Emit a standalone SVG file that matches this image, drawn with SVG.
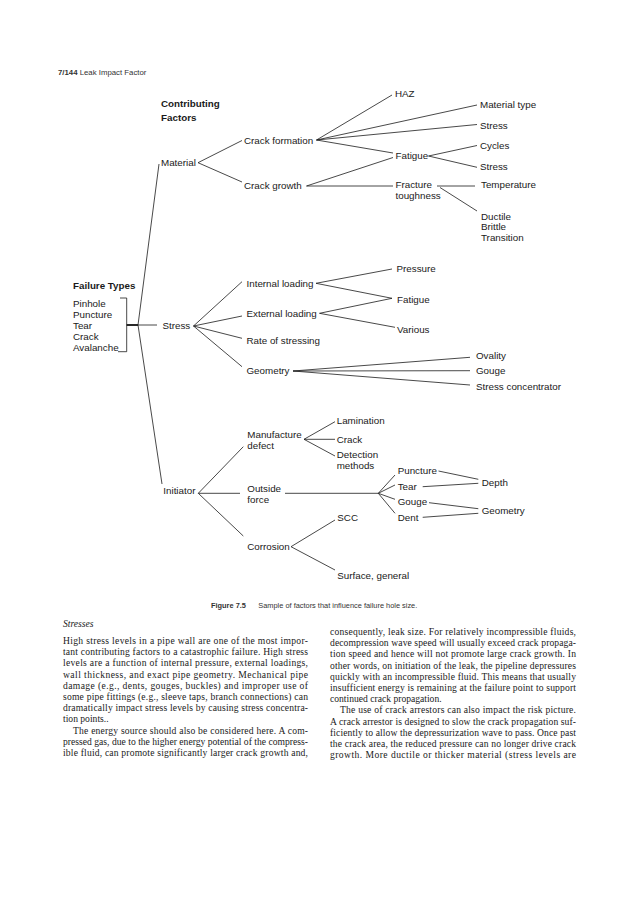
<svg xmlns="http://www.w3.org/2000/svg" width="638" height="900" viewBox="0 0 638 900">
<style>
.t{font-family:"Liberation Sans",Arial,sans-serif;font-size:9.8px;fill:#1a1a1a}
.b{font-family:"Liberation Sans",Arial,sans-serif;font-size:9.8px;font-weight:bold;fill:#1a1a1a}
.hd{font-family:"Liberation Sans",Arial,sans-serif;font-size:7.8px;fill:#333}
.cap{font-family:"Liberation Sans",Arial,sans-serif;font-size:7.4px;fill:#333}
.body{font-family:"Liberation Serif","Times New Roman",serif;font-size:9.6px;fill:#1a1a1a}
.c line,.c polyline{stroke:#1a1a1a;stroke-width:0.8;fill:none}
</style>
<rect width="638" height="900" fill="#fff"/>
<text class="hd" x="58" y="75"><tspan font-weight="bold">7/144</tspan> Leak Impact Factor</text>

<g id="connectors" class="c">
<polyline points="159,164 138,325 162,484"/>
<polyline points="120,298 126.7,298 126.7,351.7 118,351.7"/>
<line x1="126.7" y1="325" x2="157" y2="325"/>
<line x1="126.7" y1="325" x2="138" y2="325" style="stroke-width:1.8"/>
<line x1="198" y1="162.7" x2="242" y2="140.5"/>
<line x1="198" y1="162.7" x2="242" y2="182"/>
<line x1="316.5" y1="140" x2="392" y2="95"/>
<line x1="316.5" y1="140" x2="477" y2="105"/>
<line x1="316.5" y1="140" x2="477" y2="124.5"/>
<line x1="316.5" y1="140" x2="393" y2="153"/>
<line x1="306.5" y1="186" x2="393" y2="157.5"/>
<line x1="306.5" y1="186" x2="393" y2="186"/>
<line x1="428.5" y1="156" x2="477" y2="145.5"/>
<line x1="428.5" y1="156" x2="477" y2="167.3"/>
<line x1="437" y1="186" x2="475" y2="186"/>
<line x1="440" y1="187.5" x2="477" y2="211"/>
<line x1="193.5" y1="326" x2="242" y2="281.7"/>
<line x1="193.5" y1="326" x2="242" y2="316"/>
<line x1="193.5" y1="326" x2="242" y2="338.3"/>
<line x1="193.5" y1="326" x2="242" y2="366.7"/>
<line x1="316" y1="283.3" x2="392" y2="269"/>
<line x1="316" y1="283.3" x2="392" y2="298.3"/>
<line x1="319.5" y1="313.3" x2="392" y2="298.3"/>
<line x1="319.5" y1="313.3" x2="395" y2="327.3"/>
<line x1="293" y1="371" x2="470" y2="357.3"/>
<line x1="293" y1="371" x2="470" y2="370.7"/>
<line x1="293" y1="371" x2="470" y2="385"/>
<line x1="198.3" y1="493.3" x2="243.3" y2="446.7"/>
<line x1="198.3" y1="493.3" x2="240" y2="493.3"/>
<line x1="198.3" y1="493.3" x2="243.3" y2="536"/>
<line x1="304" y1="439.3" x2="335" y2="421.7"/>
<line x1="304" y1="439.3" x2="335" y2="439.3"/>
<line x1="304" y1="439.3" x2="335" y2="456"/>
<line x1="285" y1="493.3" x2="378.3" y2="493.3"/>
<line x1="378.3" y1="493.3" x2="395" y2="475"/>
<line x1="378.3" y1="493.3" x2="395" y2="485"/>
<line x1="378.3" y1="493.3" x2="395" y2="499.3"/>
<line x1="378.3" y1="493.3" x2="395" y2="513.3"/>
<line x1="291" y1="546.7" x2="335" y2="520"/>
<line x1="291" y1="546.7" x2="335" y2="570"/>
<line x1="438.5" y1="471" x2="478.3" y2="479.3"/>
<line x1="422.7" y1="486.7" x2="478.3" y2="483.3"/>
<line x1="429" y1="502.7" x2="478.3" y2="508.7"/>
<line x1="422.7" y1="517.3" x2="478.3" y2="513.3"/>
</g>

<g id="contributing-factors"><text class="b" x="161" y="107">Contributing</text><text class="b" x="161" y="121">Factors</text></g>
<g id="material"><text class="t" x="161" y="165.5">Material</text></g>
<g id="crack-formation"><text class="t" x="244" y="143.5">Crack formation</text></g>
<g id="crack-growth"><text class="t" x="244" y="188.5">Crack growth</text></g>
<g id="haz"><text class="t" x="395" y="97">HAZ</text></g>
<g id="material-type"><text class="t" x="480" y="108">Material type</text></g>
<g id="stress-1"><text class="t" x="480" y="128.5">Stress</text></g>
<g id="cycles"><text class="t" x="480" y="148.5">Cycles</text></g>
<g id="fatigue-1"><text class="t" x="395.5" y="158.5">Fatigue</text></g>
<g id="stress-2"><text class="t" x="480" y="170">Stress</text></g>
<g id="fracture-toughness"><text class="t" x="395.5" y="188">Fracture</text><text class="t" x="395.5" y="198.5">toughness</text></g>
<g id="temperature"><text class="t" x="481" y="187.5">Temperature</text></g>
<g id="ductile"><text class="t" x="481" y="219.5">Ductile</text><text class="t" x="481" y="230.2">Brittle</text><text class="t" x="481" y="241">Transition</text></g>

<g id="failure-types"><text class="b" x="73" y="288.5">Failure Types</text>
<text class="t" x="73" y="306.8">Pinhole</text><text class="t" x="73" y="318">Puncture</text><text class="t" x="73" y="329">Tear</text><text class="t" x="73" y="340">Crack</text><text class="t" x="73" y="350.8">Avalanche</text></g>
<g id="stress"><text class="t" x="162.5" y="328.5">Stress</text></g>
<g id="internal-loading"><text class="t" x="246.5" y="287">Internal loading</text></g>
<g id="external-loading"><text class="t" x="246.5" y="317">External loading</text></g>
<g id="rate-of-stressing"><text class="t" x="246.5" y="344.3">Rate of stressing</text></g>
<g id="geometry"><text class="t" x="246.5" y="374.3">Geometry</text></g>
<g id="pressure"><text class="t" x="396.5" y="272">Pressure</text></g>
<g id="fatigue-2"><text class="t" x="397" y="302.5">Fatigue</text></g>
<g id="various"><text class="t" x="397" y="332.5">Various</text></g>
<g id="ovality"><text class="t" x="476" y="358.5">Ovality</text></g>
<g id="gouge-1"><text class="t" x="476" y="374">Gouge</text></g>
<g id="stress-concentrator"><text class="t" x="476" y="390">Stress concentrator</text></g>

<g id="manufacture-defect"><text class="t" x="247.3" y="438">Manufacture</text><text class="t" x="247.3" y="448.5">defect</text></g>
<g id="lamination"><text class="t" x="336.7" y="423.5">Lamination</text></g>
<g id="crack"><text class="t" x="336.7" y="443">Crack</text></g>
<g id="detection-methods"><text class="t" x="336.7" y="458">Detection</text><text class="t" x="336.7" y="468.5">methods</text></g>
<g id="initiator"><text class="t" x="163.3" y="494.3">Initiator</text></g>
<g id="outside-force"><text class="t" x="247.3" y="492">Outside</text><text class="t" x="247.3" y="502.5">force</text></g>
<g id="puncture"><text class="t" x="397.7" y="474">Puncture</text></g>
<g id="tear"><text class="t" x="397.7" y="489.5">Tear</text></g>
<g id="gouge-2"><text class="t" x="397.7" y="505">Gouge</text></g>
<g id="dent"><text class="t" x="397.7" y="521">Dent</text></g>
<g id="depth"><text class="t" x="481.7" y="486">Depth</text></g>
<g id="geometry-2"><text class="t" x="481.7" y="514">Geometry</text></g>
<g id="scc"><text class="t" x="337.3" y="521">SCC</text></g>
<g id="corrosion"><text class="t" x="247.3" y="549.5">Corrosion</text></g>
<g id="surface-general"><text class="t" x="337.3" y="578.5">Surface, general</text></g>

<text class="cap" x="211" y="607.5"><tspan font-weight="bold">Figure 7.5</tspan><tspan x="258.3">Sample of factors that influence failure hole size.</tspan></text>

<g id="body-left">
<text class="body" x="63" y="627" font-style="italic" font-size="10.5">Stresses</text>
<text class="body" x="63" y="644" textLength="245" lengthAdjust="spacing">High stress levels in a pipe wall are one of the most impor-</text>
<text class="body" x="63" y="655.2" textLength="245" lengthAdjust="spacing">tant contributing factors to a catastrophic failure. High stress</text>
<text class="body" x="63" y="666.4" textLength="245" lengthAdjust="spacing">levels are a function of internal pressure, external loadings,</text>
<text class="body" x="63" y="677.6" textLength="245" lengthAdjust="spacing">wall thickness, and exact pipe geometry. Mechanical pipe</text>
<text class="body" x="63" y="688.8" textLength="245" lengthAdjust="spacing">damage (e.g., dents, gouges, buckles) and improper use of</text>
<text class="body" x="63" y="700" textLength="245" lengthAdjust="spacing">some pipe fittings (e.g., sleeve taps, branch connections) can</text>
<text class="body" x="63" y="711.2" textLength="245" lengthAdjust="spacing">dramatically impact stress levels by causing stress concentra-</text>
<text class="body" x="63" y="722.4">tion points..</text>
<text class="body" x="73" y="733.6" textLength="235" lengthAdjust="spacing">The energy source should also be considered here. A com-</text>
<text class="body" x="63" y="744.8" textLength="245" lengthAdjust="spacing">pressed gas, due to the higher energy potential of the compress-</text>
<text class="body" x="63" y="756" textLength="245" lengthAdjust="spacing">ible fluid, can promote significantly larger crack growth and,</text>
</g>
<g id="body-right">
<text class="body" x="330" y="635" textLength="246" lengthAdjust="spacing">consequently, leak size. For relatively incompressible fluids,</text>
<text class="body" x="330" y="646.2" textLength="246" lengthAdjust="spacing">decompression wave speed will usually exceed crack propaga-</text>
<text class="body" x="330" y="657.4" textLength="246" lengthAdjust="spacing">tion speed and hence will not promote large crack growth. In</text>
<text class="body" x="330" y="668.6" textLength="246" lengthAdjust="spacing">other words, on initiation of the leak, the pipeline depressures</text>
<text class="body" x="330" y="679.8" textLength="246" lengthAdjust="spacing">quickly with an incompressible fluid. This means that usually</text>
<text class="body" x="330" y="691" textLength="246" lengthAdjust="spacing">insufficient energy is remaining at the failure point to support</text>
<text class="body" x="330" y="702.2">continued crack propagation.</text>
<text class="body" x="340" y="713.4" textLength="236" lengthAdjust="spacing">The use of crack arrestors can also impact the risk picture.</text>
<text class="body" x="330" y="724.6" textLength="246" lengthAdjust="spacing">A crack arrestor is designed to slow the crack propagation suf-</text>
<text class="body" x="330" y="735.8" textLength="246" lengthAdjust="spacing">ficiently to allow the depressurization wave to pass. Once past</text>
<text class="body" x="330" y="747" textLength="246" lengthAdjust="spacing">the crack area, the reduced pressure can no longer drive crack</text>
<text class="body" x="330" y="758.2" textLength="246" lengthAdjust="spacing">growth. More ductile or thicker material (stress levels are</text>
</g>
</svg>
